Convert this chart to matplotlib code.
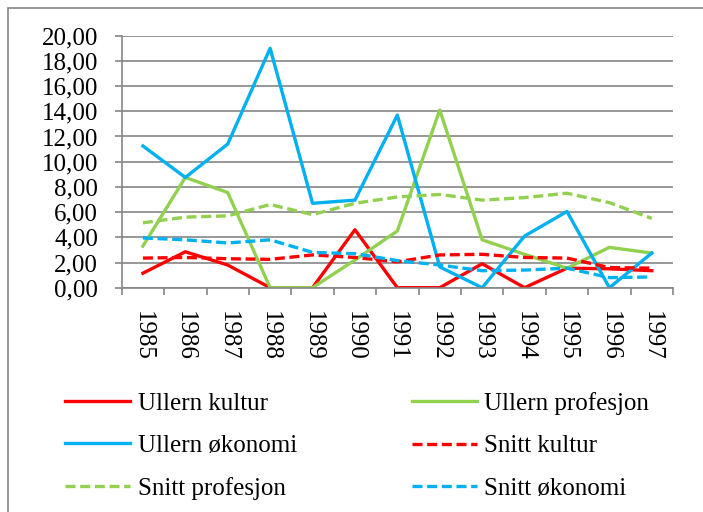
import numpy as np
import matplotlib
matplotlib.use("Agg")
import matplotlib.pyplot as plt
from matplotlib.ticker import FuncFormatter, MultipleLocator
from matplotlib.patches import Rectangle

plt.rcParams['font.family'] = ['Liberation Serif', 'DejaVu Serif']

years = ['1985', '1986', '1987', '1988', '1989', '1990', '1991',
         '1992', '1993', '1994', '1995', '1996', '1997']

ullern_kultur = [1.15, 2.85, 1.8, 0, 0, 4.6, 0, 0, 1.9, 0, 1.55, 1.5, 1.35]
ullern_profesjon = [3.3, 8.75, 7.55, 0, 0, 2.2, 4.5, 14.1, 3.8, 2.65, 1.55, 3.2, 2.75]
ullern_okonomi = [11.25, 8.75, 11.4, 19.0, 6.7, 6.95, 13.7, 1.65, 0, 4.1, 6.05, 0, 2.75]
snitt_kultur = [2.35, 2.4, 2.3, 2.25, 2.6, 2.4, 2.05, 2.6, 2.65, 2.4, 2.35, 1.6, 1.55]
snitt_profesjon = [5.15, 5.6, 5.7, 6.6, 5.8, 6.7, 7.2, 7.4, 6.95, 7.15, 7.5, 6.75, 5.5]
snitt_okonomi = [3.95, 3.8, 3.55, 3.8, 2.8, 2.7, 2.15, 1.8, 1.35, 1.4, 1.55, 0.8, 0.85]

red = '#FF0000'
green = '#92D050'
blue = '#00B0F0'
gray = '#868686'

fig = plt.figure(figsize=(7.03, 5.12), dpi=100)
ax = fig.add_axes([121.7 / 703, 1 - 287.7 / 512, 551.3 / 703, 252 / 512])

x = np.arange(len(years))
lw = 2.4
dash = (3, 1.4)
h1, = ax.plot(x, ullern_kultur, color=red, lw=lw, label='Ullern kultur')
h2, = ax.plot(x, ullern_profesjon, color=green, lw=lw, label='Ullern profesjon')
h3, = ax.plot(x, ullern_okonomi, color=blue, lw=lw, label='Ullern økonomi')
h4, = ax.plot(x, snitt_kultur, color=red, lw=lw, dashes=dash, label='Snitt kultur')
h5, = ax.plot(x, snitt_profesjon, color=green, lw=lw, dashes=dash, label='Snitt profesjon')
h6, = ax.plot(x, snitt_okonomi, color=blue, lw=lw, dashes=dash, label='Snitt økonomi')

ax.set_xlim(-0.5, len(years) - 0.5)
ax.set_ylim(0, 20)
ax.yaxis.set_major_locator(MultipleLocator(2))
ax.yaxis.set_major_formatter(FuncFormatter(lambda v, p: f'{v:.2f}'.replace('.', ',')))
ax.grid(axis='y', color=gray, lw=1.2)
ax.set_axisbelow(True)

ax.set_xticks(x)
ax.set_xticklabels(years, rotation=-90, va='top', ha='center')
ax.set_xticks(np.arange(len(years) + 1) - 0.5, minor=True)
ax.tick_params(axis='x', which='major', length=0, pad=17, labelsize=18)
ax.tick_params(axis='x', which='minor', length=5, width=1.2, color=gray, direction='out')
ax.tick_params(axis='y', length=5, width=1.2, color=gray, pad=12, labelsize=18)

for side in ['top', 'right']:
    ax.spines[side].set_visible(False)
for side in ['left', 'bottom']:
    ax.spines[side].set_color(gray)
    ax.spines[side].set_linewidth(1.2)

leg_kw = dict(loc='upper left', frameon=False, fontsize=18, handlelength=2.6,
              handletextpad=0.3, labelspacing=0.8, borderpad=0, borderaxespad=0)
fig.legend(handles=[h1, h3, h5], bbox_to_anchor=(65 / 703, 1 - 392 / 512), **leg_kw)
fig.legend(handles=[h2, h4, h6], bbox_to_anchor=(412 / 703, 1 - 392 / 512), **leg_kw)

fig.patches.append(Rectangle((8 / 703, -0.05), 1.0, 1.05 - 7.5 / 512,
                             transform=fig.transFigure, fill=False,
                             edgecolor=gray, lw=1.2))

fig.savefig('out.png', dpi=100)
